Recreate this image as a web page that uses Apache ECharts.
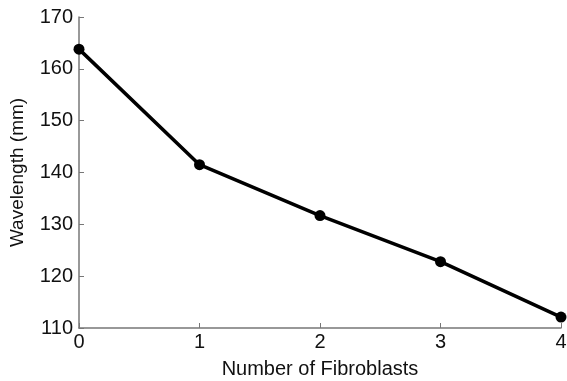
<!DOCTYPE html>
<html><head><meta charset="utf-8">
<script src="https://cdn.jsdelivr.net/npm/echarts@6/dist/echarts.min.js"></script>
<style>html,body{margin:0;padding:0;background:#fff}#c{width:567px;height:381px}</style>
</head><body><div id="c"></div>
<script>
const xValues = [0, 1, 2, 3, 4];
const wavelength = [163.8, 141.5, 131.7, 122.8, 112.1];
const xTicks = [0, 1, 2, 3, 4];
const yTicks = [110, 120, 130, 140, 150, 160, 170];

const chart = echarts.init(document.getElementById('c'));
const font = 'Liberation Sans, Arial, sans-serif';
chart.setOption({
  animation: false,
  grid: {left: 79, right: 6, top: 17, bottom: 53, containLabel: false, outerBoundsMode: 'none'},
  xAxis: {
    type: 'value', min: xTicks[0], max: xTicks[xTicks.length-1], interval: 1,
    name: 'Number of Fibroblasts', nameLocation: 'middle', nameGap: 31,
    nameTextStyle: {fontFamily: font, fontSize: 20, color: '#111'},
    axisLine: {lineStyle: {color: '#777', width: 1.5}},
    axisTick: {inside: true, length: 5, lineStyle: {color: '#777'}},
    axisLabel: {fontFamily: font, fontSize: 20, color: '#111', margin: 4},
    splitLine: {show: false}
  },
  yAxis: {
    type: 'value', min: yTicks[0], max: yTicks[yTicks.length-1], interval: 10,
    name: 'Wavelength (mm)', nameLocation: 'middle', nameGap: 52,
    nameTextStyle: {fontFamily: font, fontSize: 19, color: '#111'},
    axisLine: {show: true, lineStyle: {color: '#777', width: 1.5}},
    axisTick: {show: true, inside: true, length: 5, lineStyle: {color: '#777'}},
    axisLabel: {fontFamily: font, fontSize: 20, color: '#111', margin: 6},
    splitLine: {show: false}
  },
  series: [{
    type: 'line',
    data: xValues.map((x, i) => [x, wavelength[i]]),
    symbol: 'circle', symbolSize: 11,
    lineStyle: {color: '#000', width: 3.5},
    itemStyle: {color: '#000'},
    clip: false
  }]
});
</script></body></html>
